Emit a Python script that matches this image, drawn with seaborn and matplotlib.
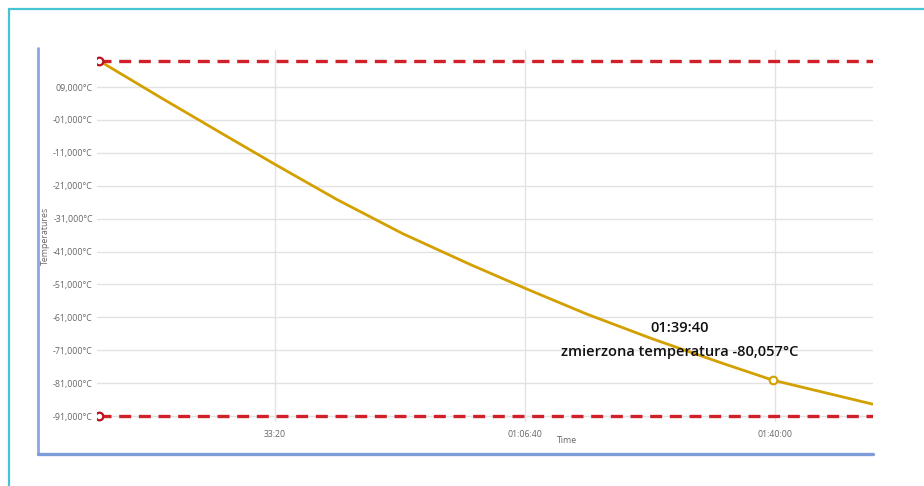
import matplotlib
matplotlib.use("Agg")
import matplotlib.pyplot as plt
from matplotlib.lines import Line2D
import seaborn as sns
import pandas as pd

# --- data ---
time_s = [592, 1094, 1624, 2000, 2496, 3024, 3560, 4040, 4494, 5024, 5560, 5980, 6784]
temps = [17.0, 5.6, -6.2, -14.5, -25.2, -35.6, -44.9, -52.8, -60.0, -67.6, -74.7, -80.057, -87.4]
upper_limit = 17.0
lower_limit = -91.0
marker_time = 5980
marker_temp = -80.057
y_ticks = [9, -1, -11, -21, -31, -41, -51, -61, -71, -81, -91]
x_ticks = [2000, 4000, 6000]
x_tick_labels = ["33:20", "01:06:40", "01:40:00"]
annot_lines = ["01:39:40", "zmierzona temperatura -80,057°C"]

sns.set_theme(style="white")
plt.rcParams['font.family'] = ['Open Sans', 'DejaVu Sans']

W, H = 924, 486
fig = plt.figure(figsize=(W / 100, H / 100), dpi=100)
ax = fig.add_axes([97 / W, 1 - 422 / H, (873 - 97) / W, (422 - 50) / H])

df = pd.DataFrame({"Time": time_s, "Temperature": temps})
sns.lineplot(data=df, x="Time", y="Temperature", ax=ax, color="#d4a000", linewidth=2.0, zorder=3)

x0, x1 = 576, 6784
for lim in (upper_limit, lower_limit):
    ax.plot([time_s[0], x1], [lim, lim], color="#d0202a", linewidth=2.4,
            dashes=(3.6, 2.3), zorder=4, solid_capstyle="butt")
    ax.plot([time_s[0]], [lim], marker="o", markersize=5.5, markerfacecolor="white",
            markeredgecolor="#c01020", markeredgewidth=1.6, zorder=5, linestyle="none")

ax.plot([marker_time], [marker_temp], marker="o", markersize=5.5, markerfacecolor="white",
        markeredgecolor="#d4a000", markeredgewidth=1.5, zorder=6, linestyle="none")

ax.set_xlim(x0, x1)
ax.set_ylim(-92.8, 20.25)

ax.set_yticks(y_ticks)
ax.set_yticklabels([("-" if v < 0 else "") + f"{abs(v):02d},000°C" for v in y_ticks])
ax.set_xticks(x_ticks)
ax.set_xticklabels(x_tick_labels)
ax.tick_params(axis="both", length=0, labelsize=6.3, labelcolor="#666666")
ax.tick_params(axis="y", pad=3)
ax.tick_params(axis="x", pad=6)
ax.grid(True, color="#e2e2e2", linewidth=1.0)
ax.set_axisbelow(True)
for s in ax.spines.values():
    s.set_visible(False)
ax.set_xlabel("")
ax.set_ylabel("")

fig.text(567 / W, 1 - 440 / H, "Time", ha="center", va="center", fontsize=6.3, color="#666666")
fig.text(45 / W, 1 - 236 / H, "Temperatures", ha="center", va="center", rotation=90,
         fontsize=6.3, color="#666666")

fig.text(680 / W, 1 - 328 / H, annot_lines[0], ha="center", va="center", fontsize=10.5,
         color="#111111", fontweight="semibold")
fig.text(680 / W, 1 - 352 / H, annot_lines[1], ha="center", va="center", fontsize=10.5,
         color="#111111", fontweight="semibold")

# frame decorations
fig.add_artist(Line2D([9 / W, 9 / W], [0, 1 - 9 / H], color="#45c3d3", linewidth=1.6))
fig.add_artist(Line2D([9 / W, 1], [1 - 9 / H, 1 - 9 / H], color="#45c3d3", linewidth=1.6))
fig.add_artist(Line2D([38 / W, 38 / W], [1 - 454 / H, 1 - 48 / H], color="#8da6df", linewidth=2.0))
fig.add_artist(Line2D([38 / W, 873 / W], [1 - 454 / H, 1 - 454 / H], color="#7e9cd8", linewidth=2.4))

fig.savefig("out.png", dpi=100)
